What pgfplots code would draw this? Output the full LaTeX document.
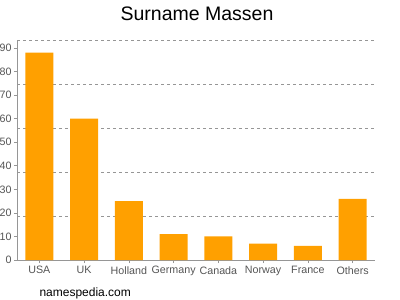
\documentclass[border=0pt]{standalone}
\usepackage{fontspec}
\setmainfont{Liberation Sans}
\usepackage{pgfplots}
\pgfplotsset{compat=1.18}
\definecolor{barorange}{RGB}{255,160,0}
\definecolor{axgray}{RGB}{150,150,150}
\definecolor{labgray}{RGB}{85,85,85}
\begin{document}
\begin{tikzpicture}[x=1bp,y=1bp]
\path[use as bounding box] (-17,-40) rectangle (383,260);
\begin{axis}[
  at={(0,0)}, anchor=south west,
  scale only axis, width=358bp, height=220bp,
  xmin=-0.5, xmax=7.5, ymin=0, ymax=93.4,
  axis x line*=bottom, axis y line*=left,
  axis line style={axgray, line width=0.8pt, -},
  xtick={0,1,2,3,4,5,6,7},
  xticklabels={USA,UK,Holland,Germany,Canada,Norway,France,Others},
  ytick={0,10,20,30,40,50,60,70,80,90},
  tick align=outside, major tick length=3bp,
  tick style={axgray, line width=0.6pt},
  ticklabel style={font=\fontsize{10.7bp}{12bp}\selectfont, text=labgray},
  /pgf/number format/assume math mode=true,
  xticklabel style={yshift=0bp},
  yticklabel style={xshift=1bp},
  extra y ticks={18.68,37.36,56.04,74.72,93.4},
  extra y tick labels={},
  extra y tick style={grid=major, major tick length=0pt},
  major grid style={axgray, dash pattern=on 3bp off 3bp, line width=0.6pt},
  clip=false,
]
\addplot[ybar, bar width=28bp, fill=barorange, draw=none] coordinates {
(0,88) (1,60) (2,25) (3,11) (4,10) (5,7) (6,6) (7,26)};
\end{axis}
\node[font=\fontsize{19.5bp}{22bp}\selectfont, anchor=base] at (180,240) {Surname Massen};
\node[font=\fontsize{12bp}{14bp}\selectfont, anchor=base west] at (19,-36) {namespedia.com};
\end{tikzpicture}
\end{document}
